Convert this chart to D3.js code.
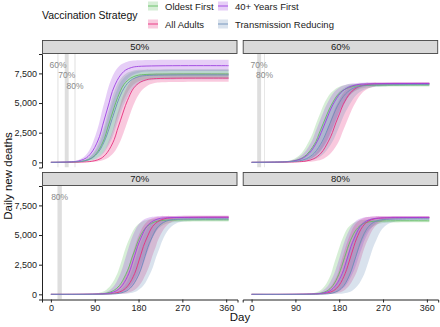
<!DOCTYPE html>
<html><head><meta charset="utf-8">
<script src="https://cdn.jsdelivr.net/npm/d3@7"></script>
<style>body{margin:0;background:#fff}svg{display:block;font-family:"Liberation Sans",Arial,sans-serif}</style>
</head><body><svg id="c" width="440" height="327"></svg>
<script>
// ---------- data ----------
const panelLabels = ["50%", "60%", "70%", "80%"];
const strategies = ["Oldest First", "All Adults", "40+ Years First", "Transmission Reducing"];
const xTicks = [0, 90, 180, 270, 360];
const yTicks = [0, 2500, 5000, 7500];

// 50% panel  [day, daily new deaths]
const g50_mid = [[0,0],[56,50],[69,130],[83,350],[96,890],[110,2000],[116,2820],[123,3730],[130,4630],[137,5450],[150,6560],[164,7100],[177,7320],[191,7400],[365,7450]];
const g50_lo = [[0,0],[65,50],[79,130],[93,330],[107,840],[121,1910],[128,2680],[135,3550],[142,4420],[149,5190],[163,6260],[177,6770],[191,6970],[205,7050],[365,7100]];
const g50_hi = [[0,0],[50,50],[63,140],[76,370],[89,930],[102,2110],[109,2970],[115,3920],[122,4880],[128,5740],[141,6920],[154,7480],[167,7710],[180,7800],[365,7850]];
const p50_mid = [[0,0],[47,60],[60,150],[73,380],[86,970],[100,2190],[106,3080],[113,4080],[120,5070],[126,5960],[140,7180],[153,7770],[166,8000],[180,8090],[365,8150]];
const p50_lo = [[0,0],[55,50],[69,140],[83,360],[97,920],[111,2070],[118,2910],[125,3850],[132,4790],[139,5630],[153,6780],[167,7340],[181,7560],[195,7650],[365,7700]];
const p50_hi = [[0,0],[40,60],[53,160],[66,410],[79,1030],[92,2330],[99,3270],[105,4320],[112,5380],[118,6320],[131,7620],[144,8240],[157,8490],[170,8590],[365,8650]];
const a50_mid = [[0,0],[76,50],[89,130],[103,330],[116,840],[130,1910],[136,2680],[143,3550],[150,4420],[157,5190],[170,6260],[184,6770],[197,6970],[211,7050],[365,7100]];
const a50_lo = [[0,0],[87,50],[101,120],[115,320],[129,810],[143,1830],[150,2570],[157,3400],[164,4230],[171,4970],[185,5990],[199,6480],[213,6680],[227,6750],[365,6800]];
const a50_hi = [[0,0],[69,50],[82,140],[95,350],[108,890],[121,2020],[128,2840],[134,3750],[141,4660],[147,5480],[160,6610],[173,7150],[186,7360],[199,7450],[365,7500]];
const t50_mid = [[0,0],[56,50],[70,130],[84,350],[98,880],[112,1980],[119,2790],[126,3690],[133,4580],[140,5390],[154,6490],[168,7020],[182,7240],[196,7320],[365,7370]];
const t50_lo = [[0,0],[66,50],[80,130],[95,330],[109,830],[124,1880],[131,2650],[138,3500],[145,4350],[153,5120],[167,6170],[182,6670],[196,6870],[211,6950],[365,7000]];
const t50_hi = [[0,0],[51,50],[64,140],[78,370],[91,930],[105,2100],[111,2950],[118,3900],[125,4850],[132,5700],[145,6870],[159,7430],[172,7660],[186,7750],[365,7800]];

// 60% panel
const g60_mid = [[0,0],[70,50],[85,120],[101,310],[116,780],[132,1750],[139,2460],[147,3260],[155,4060],[163,4770],[178,5740],[194,6210],[209,6400],[225,6470],[365,6520]];
const g60_lo = [[0,0],[89,40],[105,120],[121,300],[137,760],[153,1720],[161,2420],[169,3200],[177,3980],[185,4680],[201,5640],[217,6100],[233,6280],[249,6360],[365,6400]];
const g60_hi = [[0,0],[58,50],[73,120],[88,310],[103,790],[118,1790],[126,2510],[133,3320],[141,4140],[148,4860],[163,5860],[178,6340],[193,6530],[208,6600],[365,6650]];
const p60_mid = [[0,0],[71,50],[87,120],[103,310],[119,790],[135,1790],[143,2510],[151,3320],[159,4140],[167,4860],[183,5860],[199,6340],[215,6530],[231,6600],[365,6650]];
const p60_lo = [[0,0],[89,50],[105,120],[122,310],[138,780],[155,1760],[163,2480],[171,3280],[179,4070],[188,4790],[204,5770],[221,6240],[237,6430],[254,6500],[365,6550]];
const p60_hi = [[0,0],[62,50],[77,120],[93,320],[108,800],[124,1820],[131,2550],[139,3380],[147,4200],[155,4930],[170,5950],[186,6430],[201,6630],[217,6700],[365,6750]];
const a60_mid = [[0,0],[98,50],[113,120],[128,310],[143,790],[158,1790],[166,2510],[173,3320],[181,4140],[188,4860],[203,5860],[218,6340],[233,6530],[248,6600],[365,6650]];
const a60_lo = [[0,0],[117,50],[132,120],[148,310],[163,780],[179,1760],[186,2480],[194,3280],[202,4070],[210,4790],[225,5770],[241,6240],[256,6430],[272,6500],[365,6550]];
const a60_hi = [[0,0],[89,50],[103,120],[118,320],[132,800],[147,1820],[154,2550],[161,3380],[168,4200],[176,4930],[190,5950],[205,6430],[219,6630],[234,6700],[365,6750]];
const t60_mid = [[0,0],[81,50],[97,120],[113,310],[129,780],[145,1760],[153,2480],[161,3280],[169,4080],[177,4800],[193,5780],[209,6250],[225,6440],[241,6510],[365,6560]];
const t60_lo = [[0,0],[100,50],[116,120],[133,300],[149,770],[166,1740],[174,2440],[182,3220],[190,4010],[199,4710],[215,5680],[232,6150],[248,6330],[265,6400],[365,6450]];
const t60_hi = [[0,0],[71,50],[86,120],[102,310],[117,800],[133,1800],[140,2530],[148,3350],[156,4170],[164,4900],[179,5900],[195,6390],[210,6580],[226,6650],[365,6700]];

// 70% panel
const g70_mid = [[0,0],[102,40],[115,110],[128,300],[141,750],[154,1690],[161,2370],[167,3140],[174,3910],[180,4590],[193,5530],[206,5980],[219,6170],[232,6240],[365,6280]];
const g70_lo = [[0,0],[124,40],[137,110],[151,290],[164,730],[178,1650],[184,2320],[191,3080],[198,3830],[205,4500],[218,5420],[232,5860],[245,6040],[259,6110],[365,6150]];
const g70_hi = [[0,0],[86,40],[98,120],[111,300],[123,760],[136,1720],[142,2420],[148,3200],[154,3980],[161,4680],[173,5640],[186,6100],[198,6280],[211,6360],[365,6400]];
const p70_mid = [[0,0],[110,50],[122,120],[135,310],[147,770],[160,1750],[166,2460],[172,3250],[178,4040],[185,4750],[197,5730],[210,6190],[222,6380],[235,6450],[365,6500]];
const p70_lo = [[0,0],[130,40],[143,110],[156,300],[169,760],[182,1720],[189,2410],[195,3190],[202,3970],[208,4660],[221,5620],[234,6080],[247,6270],[260,6340],[365,6380]];
const p70_hi = [[0,0],[95,50],[107,120],[119,310],[131,790],[143,1780],[149,2500],[155,3310],[161,4120],[167,4840],[179,5830],[191,6310],[203,6500],[215,6570],[365,6620]];
const a70_mid = [[0,0],[122,50],[134,120],[147,310],[159,770],[172,1750],[178,2460],[184,3250],[190,4040],[197,4750],[209,5730],[222,6190],[234,6380],[247,6450],[365,6500]];
const a70_lo = [[0,0],[143,40],[156,110],[169,300],[182,760],[195,1720],[202,2410],[208,3190],[215,3970],[221,4660],[234,5620],[247,6080],[260,6270],[273,6340],[365,6380]];
const a70_hi = [[0,0],[107,50],[119,120],[131,310],[143,790],[155,1780],[161,2500],[167,3310],[173,4120],[179,4840],[191,5830],[203,6310],[215,6500],[227,6570],[365,6620]];
const t70_mid = [[0,0],[131,40],[143,110],[156,300],[168,760],[181,1710],[187,2400],[193,3180],[199,3960],[206,4650],[218,5600],[231,6060],[243,6250],[256,6320],[365,6360]];
const t70_lo = [[0,0],[151,40],[164,110],[177,290],[190,740],[203,1680],[210,2350],[216,3120],[223,3880],[229,4550],[242,5490],[255,5940],[268,6120],[281,6190],[365,6230]];
const t70_hi = [[0,0],[116,50],[128,120],[140,300],[152,770],[164,1740],[170,2450],[176,3240],[182,4030],[188,4740],[200,5710],[212,6180],[224,6360],[236,6430],[365,6480]];

// 80% panel
const g80_mid = [[0,0],[131,40],[143,110],[155,290],[167,740],[179,1670],[185,2340],[191,3100],[197,3860],[203,4530],[215,5460],[227,5910],[239,6090],[251,6160],[365,6200]];
const g80_lo = [[0,0],[152,40],[164,110],[177,290],[189,720],[202,1640],[208,2300],[214,3040],[220,3780],[227,4440],[239,5360],[252,5790],[264,5970],[277,6040],[365,6080]];
const g80_hi = [[0,0],[117,40],[128,110],[140,300],[151,750],[163,1700],[168,2390],[174,3160],[180,3930],[186,4620],[197,5570],[209,6020],[220,6210],[232,6280],[365,6320]];
const p80_mid = [[0,0],[136,50],[148,120],[161,300],[173,770],[186,1740],[192,2450],[198,3240],[204,4030],[211,4740],[223,5710],[236,6180],[248,6360],[261,6430],[365,6480]];
const p80_lo = [[0,0],[155,40],[168,110],[181,300],[194,760],[207,1710],[214,2400],[220,3180],[227,3960],[233,4650],[246,5600],[259,6060],[272,6250],[285,6320],[365,6360]];
const p80_hi = [[0,0],[122,50],[134,120],[146,310],[158,790],[170,1780],[176,2490],[182,3300],[188,4110],[194,4820],[206,5810],[218,6290],[230,6480],[242,6550],[365,6600]];
const a80_mid = [[0,0],[144,50],[156,120],[168,300],[180,770],[192,1740],[198,2450],[204,3240],[210,4030],[216,4740],[228,5710],[240,6180],[252,6360],[264,6430],[365,6480]];
const a80_lo = [[0,0],[164,40],[176,110],[189,300],[201,760],[214,1710],[220,2400],[226,3180],[232,3960],[239,4650],[251,5600],[264,6060],[276,6250],[289,6320],[365,6360]];
const a80_hi = [[0,0],[131,50],[142,120],[154,310],[165,790],[177,1780],[182,2490],[188,3300],[194,4110],[200,4820],[211,5810],[223,6290],[234,6480],[246,6550],[365,6600]];
const t80_mid = [[0,0],[154,40],[166,110],[178,300],[190,760],[202,1710],[208,2400],[214,3180],[220,3960],[226,4650],[238,5600],[250,6060],[262,6250],[274,6320],[365,6360]];
const t80_lo = [[0,0],[181,40],[193,110],[206,290],[218,740],[231,1680],[237,2360],[243,3120],[249,3880],[256,4560],[268,5500],[281,5950],[293,6130],[306,6200],[365,6240]];
const t80_hi = [[0,0],[140,50],[151,120],[163,300],[174,770],[186,1740],[191,2450],[197,3240],[203,4030],[209,4740],[220,5710],[232,6180],[243,6360],[255,6430],[365,6480]];

// coverage-threshold markers (day ranges) per panel
const markPanel = ["50%", "50%", "50%", "60%", "60%", "70%"];
const markLabel = ["60%", "70%", "80%", "70%", "80%", "80%"];
const markStart = [13.5, 28.5, 48.5, 11.5, 26, 13.5];
const markEnd = [15.5, 36.5, 50.5, 19.5, 27.5, 22.5];
const markLabelY = [8200, 7350, 6450, 8200, 7350, 8200];

// ---------- assemble ----------
const seriesByPanel = {
  "50%": {"Oldest First": [g50_mid, g50_lo, g50_hi], "All Adults": [a50_mid, a50_lo, a50_hi], "40+ Years First": [p50_mid, p50_lo, p50_hi], "Transmission Reducing": [t50_mid, t50_lo, t50_hi]},
  "60%": {"Oldest First": [g60_mid, g60_lo, g60_hi], "All Adults": [a60_mid, a60_lo, a60_hi], "40+ Years First": [p60_mid, p60_lo, p60_hi], "Transmission Reducing": [t60_mid, t60_lo, t60_hi]},
  "70%": {"Oldest First": [g70_mid, g70_lo, g70_hi], "All Adults": [a70_mid, a70_lo, a70_hi], "40+ Years First": [p70_mid, p70_lo, p70_hi], "Transmission Reducing": [t70_mid, t70_lo, t70_hi]},
  "80%": {"Oldest First": [g80_mid, g80_lo, g80_hi], "All Adults": [a80_mid, a80_lo, a80_hi], "40+ Years First": [p80_mid, p80_lo, p80_hi], "Transmission Reducing": [t80_mid, t80_lo, t80_hi]}
};
const lineColor = {"Oldest First": "#62bd62", "All Adults": "#e6307e", "40+ Years First": "#9d42e0", "Transmission Reducing": "#6d8fb8"};
const fillOpacity = 0.26;

const svg = d3.select("#c");
const pw = 195.5, ph = 113.5, stripH = 14;
const pos = [{x: 42, y: 54}, {x: 242.7, y: 54}, {x: 42, y: 186}, {x: 242.7, y: 186}];
const x = d3.scaleLinear().domain([-18.25, 383.25]).range([0, pw]);
const y = d3.scaleLinear().domain([-435, 9135]).range([ph, 0]);
const curve = d3.curveCatmullRom.alpha(0.5);
const line = d3.line().x(d => x(d[0])).y(d => y(d[1])).curve(curve);
const font = "Liberation Sans, Arial, sans-serif";

panelLabels.forEach((lab, i) => {
  const p = pos[i];
  const g = svg.append("g").attr("transform", `translate(${p.x},${p.y})`);
  svg.append("rect").attr("x", p.x + 0.5).attr("y", p.y - stripH + 0.5).attr("width", pw - 1).attr("height", stripH - 1)
    .attr("fill", "#d9d9d9").attr("stroke", "#444").attr("stroke-width", 0.9);
  svg.append("text").attr("x", p.x + pw / 2).attr("y", p.y - stripH / 2 + 3.4).attr("text-anchor", "middle")
    .attr("font-size", 9.5).attr("fill", "#1a1a1a").text(lab);

  const clip = g.append("clipPath").attr("id", "clip" + i);
  clip.append("rect").attr("width", pw).attr("height", ph);
  const plot = g.append("g").attr("clip-path", `url(#clip${i})`);

  markPanel.forEach((mp, j) => {
    if (mp !== lab) return;
    plot.append("rect").attr("x", x(markStart[j])).attr("width", x(markEnd[j]) - x(markStart[j]))
      .attr("y", 0).attr("height", ph).attr("fill", "#c8c8c8").attr("opacity", 0.6);
  });

  const ser = seriesByPanel[lab];
  strategies.forEach(s => {
    const [mid, lo, hi] = ser[s];
    const upper = line(hi);
    const lower = line(lo.slice().reverse());
    plot.append("path").attr("d", upper + "L" + lower.slice(1) + "Z")
      .attr("fill", lineColor[s]).attr("fill-opacity", fillOpacity).attr("stroke", "none");
  });
  strategies.forEach(s => {
    plot.append("path").attr("d", line(ser[s][0])).attr("fill", "none")
      .attr("stroke", lineColor[s]).attr("stroke-width", 0.9);
  });

  markPanel.forEach((mp, j) => {
    if (mp !== lab) return;
    g.append("text").attr("x", x((markStart[j] + markEnd[j]) / 2)).attr("y", y(markLabelY[j]) + 3.2)
      .attr("text-anchor", "middle").attr("font-size", 8.5).attr("fill", "#8a8a8a").text(markLabel[j]);
  });

  if (i % 2 === 0) {
    const ax = g.append("g").call(d3.axisLeft(y).tickValues(yTicks).tickFormat(d3.format(",")).tickSizeOuter(0).tickSize(3).tickPadding(2));
    ax.select(".domain").attr("stroke", "#222");
    ax.selectAll(".tick line").attr("stroke", "#222");
    ax.selectAll("text").attr("font-size", 9).attr("fill", "#222").attr("font-family", font);
  }
  if (i >= 2) {
    const ax = g.append("g").attr("transform", `translate(0,${ph})`)
      .call(d3.axisBottom(x).tickValues(xTicks).tickSizeOuter(0).tickSize(3).tickPadding(2));
    ax.select(".domain").attr("stroke", "#222");
    ax.selectAll(".tick line").attr("stroke", "#222");
    ax.selectAll("text").attr("font-size", 9).attr("fill", "#222").attr("font-family", font);
  }
});

svg.append("text").attr("x", 240).attr("y", 321).attr("text-anchor", "middle").attr("font-size", 11.5).attr("fill", "#111").text("Day");
svg.append("text").attr("transform", "translate(12,176) rotate(-90)").attr("text-anchor", "middle").attr("font-size", 11.5).attr("fill", "#111").text("Daily new deaths");

svg.append("text").attr("x", 42).attr("y", 19).attr("font-size", 10.5).attr("fill", "#111").text("Vaccination Strategy");
const legendOrder = ["Oldest First", "40+ Years First", "All Adults", "Transmission Reducing"];
const legendX = [148, 218, 148, 218];
const legendY = [1.5, 1.5, 19.5, 19.5];
legendOrder.forEach((s, k) => {
  const lg = svg.append("g").attr("transform", `translate(${legendX[k]},${legendY[k]})`);
  lg.append("rect").attr("width", 10).attr("height", 9).attr("fill", lineColor[s]).attr("fill-opacity", fillOpacity);
  lg.append("line").attr("x1", 0).attr("x2", 10).attr("y1", 4.5).attr("y2", 4.5).attr("stroke", lineColor[s]).attr("stroke-width", 0.9);
  lg.append("text").attr("x", 17).attr("y", 8).attr("font-size", 9.5).attr("fill", "#222").text(s);
});
</script></body></html>
